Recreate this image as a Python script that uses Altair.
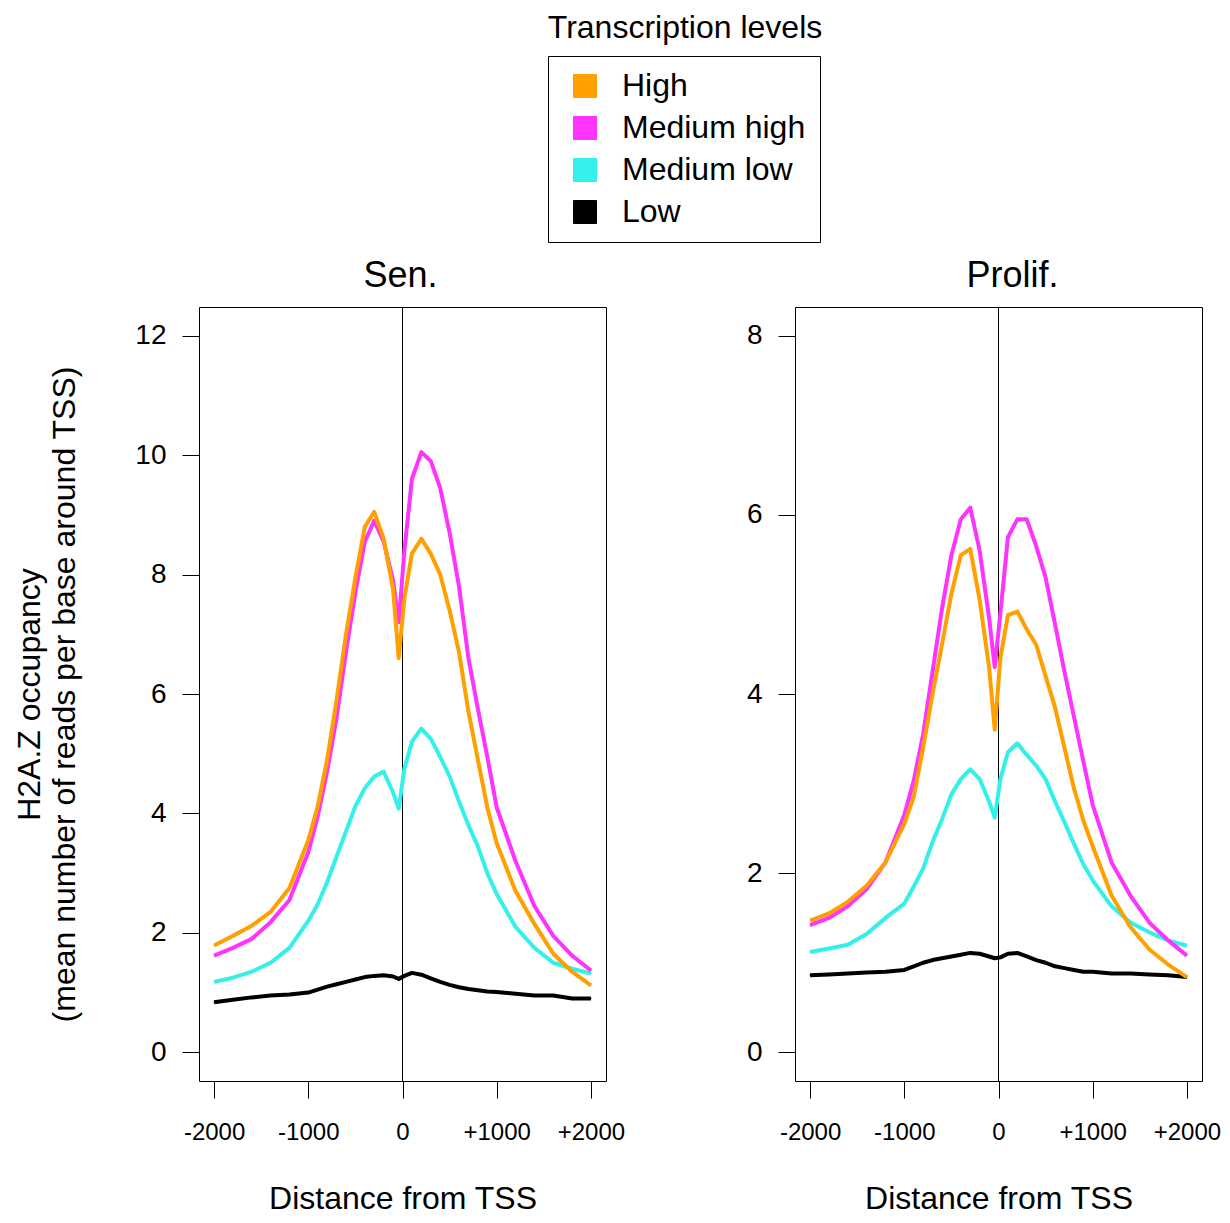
import altair as alt
import pandas as pd

FONT = "Liberation Sans"

distance = [-2000, -1800, -1600, -1400, -1200, -1000, -900, -800, -700, -600, -500, -400,
            -300, -200, -100, -40, 20, 100, 200, 300, 400, 500, 600, 700, 800, 900, 1000,
            1200, 1400, 1600, 1800, 2000]

levels = ["High", "Medium high", "Medium low", "Low"]
colors = ["#FFA000", "#FF33FF", "#33F0EA", "#000000"]

# Sen. panel
sen_high = [1.79, 1.95, 2.12, 2.35, 2.75, 3.55, 4.12, 4.9, 5.9, 7.0, 7.95, 8.8, 9.05, 8.6, 7.75,
            6.6, 7.6, 8.35, 8.6, 8.35, 8.0, 7.4, 6.7, 5.7, 4.9, 4.1, 3.5, 2.7, 2.15, 1.65, 1.35, 1.12]
sen_medhigh = [1.62, 1.75, 1.90, 2.18, 2.55, 3.35, 3.95, 4.7, 5.6, 6.7, 7.7, 8.55, 8.9, 8.55, 7.9,
               7.2, 8.4, 9.6, 10.05, 9.9, 9.45, 8.7, 7.8, 6.6, 5.75, 4.95, 4.1, 3.2, 2.45, 1.95, 1.62, 1.37]
sen_medlow = [1.18, 1.25, 1.35, 1.5, 1.75, 2.2, 2.48, 2.85, 3.28, 3.7, 4.12, 4.42, 4.62, 4.7, 4.35,
              4.08, 4.75, 5.2, 5.42, 5.25, 4.95, 4.62, 4.2, 3.8, 3.45, 3.0, 2.65, 2.1, 1.75, 1.5, 1.4, 1.32]
sen_low = [0.84, 0.88, 0.92, 0.95, 0.97, 1.0, 1.05, 1.1, 1.14, 1.18, 1.22, 1.26, 1.28, 1.29, 1.27,
           1.23, 1.28, 1.33, 1.3, 1.24, 1.18, 1.13, 1.09, 1.06, 1.04, 1.02, 1.01, 0.98, 0.95, 0.95, 0.9, 0.9]

# Prolif. panel
pro_high = [1.47, 1.55, 1.68, 1.86, 2.12, 2.55, 2.85, 3.4, 4.0, 4.55, 5.12, 5.55, 5.62, 5.05, 4.3,
            3.6, 4.4, 4.88, 4.92, 4.72, 4.55, 4.2, 3.85, 3.4, 2.95, 2.59, 2.3, 1.75, 1.4, 1.15, 0.98, 0.84]
pro_medhigh = [1.42, 1.5, 1.63, 1.82, 2.12, 2.65, 3.03, 3.55, 4.25, 4.95, 5.55, 5.95, 6.08, 5.6, 4.85,
               4.3, 4.9, 5.75, 5.95, 5.95, 5.65, 5.3, 4.78, 4.25, 3.75, 3.25, 2.76, 2.12, 1.75, 1.45, 1.25, 1.08]
pro_medlow = [1.12, 1.16, 1.2, 1.32, 1.5, 1.66, 1.85, 2.05, 2.35, 2.6, 2.88, 3.05, 3.16, 3.05, 2.8,
              2.62, 3.05, 3.35, 3.45, 3.32, 3.2, 3.05, 2.8, 2.57, 2.33, 2.1, 1.92, 1.63, 1.45, 1.34, 1.25, 1.19]
pro_low = [0.86, 0.87, 0.88, 0.89, 0.9, 0.92, 0.96, 1.0, 1.03, 1.05, 1.07, 1.09, 1.11, 1.1, 1.07,
           1.05, 1.06, 1.1, 1.11, 1.07, 1.03, 1.0, 0.96, 0.94, 0.92, 0.9, 0.9, 0.88, 0.88, 0.87, 0.86, 0.84]

x_ticks = [-2000, -1000, 0, 1000, 2000]


def make_df(series):
    rows = []
    # drawing order: Low first, High last (on top)
    for lvl in ["Low", "Medium low", "Medium high", "High"]:
        for d, v in zip(distance, series[lvl]):
            rows.append({"distance": d, "value": v, "level": lvl})
    return pd.DataFrame(rows)


LEGEND = alt.Legend(title=None, orient="none", legendX=349, legendY=-251,
                    direction="vertical", symbolType="square",
                    symbolSize=529, symbolStrokeColor="black", symbolStrokeWidth=1,
                    symbolOffset=7, symbolOpacity=1,
                    labelFontSize=32, labelFont=FONT, labelColor="black", labelLimit=400,
                    labelOffset=21, rowPadding=10, padding=14,
                    strokeColor="black")


def panel(series, ymax, title, ytitle, title_dx):
    df = make_df(series)
    pad = ymax * 0.04
    xscale = alt.Scale(domain=[-2160, 2160], nice=False, zero=False)
    yscale = alt.Scale(domain=[-pad, ymax + pad], nice=False, zero=False)
    yaxis = alt.Axis(values=list(range(0, ymax + 1, 2)), title=ytitle) if ytitle else \
        alt.Axis(values=list(range(0, ymax + 1, 2)), title=None)
    xenc = alt.X("distance:Q", scale=xscale,
                 axis=alt.Axis(values=x_ticks, title="Distance from TSS",
                               labelExpr="datum.value > 0 ? '+' + datum.value : '' + datum.value"))
    yenc = alt.Y("value:Q", scale=yscale, axis=yaxis)
    cscale = alt.Scale(domain=levels, range=colors)
    # tiny squares hidden under the lines: they carry the filled-square legend
    keys = alt.Chart(df).mark_square(size=1, filled=True, opacity=1).encode(
        x=xenc, y=yenc, color=alt.Color("level:N", scale=cscale, legend=LEGEND)
    )
    lines = alt.Chart(df).mark_line(strokeWidth=4, strokeJoin="round").encode(
        x=xenc, y=yenc, color=alt.Color("level:N", scale=cscale, legend=None)
    )
    rule = alt.Chart(pd.DataFrame({"distance": [0]})).mark_rule(color="black", strokeWidth=1).encode(
        x=alt.X("distance:Q", scale=xscale)
    )
    return alt.layer(rule, keys, lines).properties(
        width=407, height=774,
        title=alt.TitleParams(title, fontSize=36, font=FONT, fontWeight="normal", color="black",
                              anchor="middle", frame="group", offset=12, dx=title_dx),
    )


left = panel({"High": sen_high, "Medium high": sen_medhigh, "Medium low": sen_medlow, "Low": sen_low},
             12, "Sen.", ["H2A.Z occupancy", "(mean number of reads per base around TSS)"], -2)
right = panel({"High": pro_high, "Medium high": pro_medhigh, "Medium low": pro_medlow, "Low": pro_low},
              8, "Prolif.", None, 14)

chart = alt.hconcat(left, right, spacing=189, bounds="flush").resolve_scale(
    x="independent", y="independent", color="shared"
).properties(
    title=alt.TitleParams("Transcription levels", fontSize=32, font=FONT, fontWeight="normal",
                          color="black", anchor="middle", frame="group", dx=486, offset=11),
    padding={"left": 5, "top": 3, "right": 0, "bottom": 1},
).configure_view(
    stroke="black", strokeWidth=1
).configure_axis(
    grid=False, domain=False, tickColor="black", tickSize=17, tickWidth=1,
    labelFont=FONT, labelColor="black", labelOverlap=False, labelFlush=False,
    titleFont=FONT, titleFontSize=32, titleFontWeight="normal", titleColor="black",
).configure_axisX(
    labelFontSize=24, labelPadding=22, titlePadding=39
).configure_axisY(
    labelFontSize=28, labelPadding=16, titlePadding=53, titleLineHeight=35
)

chart.save("out.html", embed_options={"renderer": "svg", "actions": False})
